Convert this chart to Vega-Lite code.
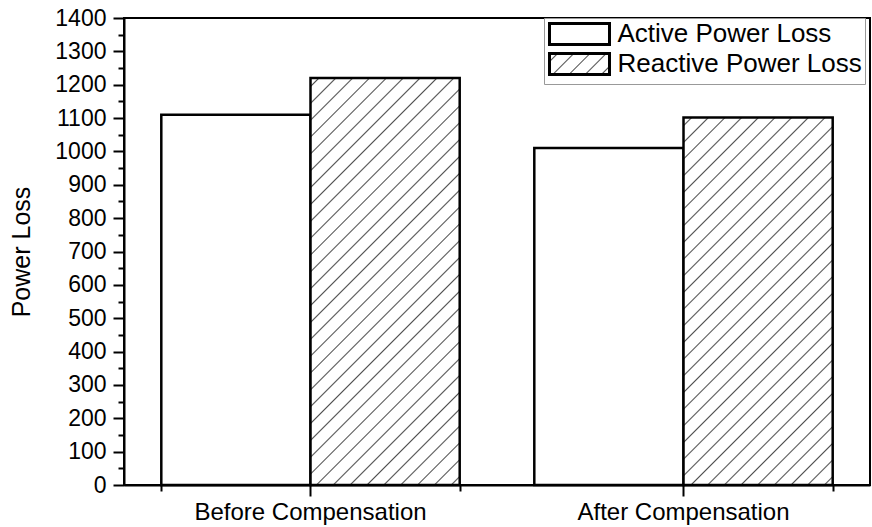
{
  "$schema": "https://vega.github.io/schema/vega-lite/v6.json",
  "width": 746,
  "height": 467,
  "autosize": "none",
  "padding": {"left": 124, "top": 18, "right": 2, "bottom": 42},
  "background": "white",
  "data": {
    "values": [
      {"stage": "Before Compensation", "series": "Active Power Loss", "loss": 1110},
      {"stage": "Before Compensation", "series": "Reactive Power Loss", "loss": 1220},
      {"stage": "After Compensation", "series": "Active Power Loss", "loss": 1010},
      {"stage": "After Compensation", "series": "Reactive Power Loss", "loss": 1102}
    ]
  },
  "layer": [
    {
      "transform": [{"filter": "datum.series === 'Active Power Loss'"}],
      "mark": {"type": "bar", "fill": "white", "strokeWidth": 2.5},
      "encoding": {
        "x": {
          "field": "stage", "type": "nominal",
          "sort": ["Before Compensation", "After Compensation"],
          "scale": {"paddingInner": 0.2, "paddingOuter": 0.1},
          "axis": {"title": null, "labelAngle": 0, "labelFontSize": 24, "labelPadding": 4, "labelLimit": 500, "tickSize": 11, "domain": true}
        },
        "xOffset": {
          "field": "series", "type": "nominal",
          "sort": ["Active Power Loss", "Reactive Power Loss"],
          "scale": {"paddingInner": 0, "paddingOuter": 0}
        },
        "y": {
          "field": "loss", "type": "quantitative",
          "scale": {"domain": [0, 1400], "nice": false},
          "axis": {
            "title": "Power Loss", "titleFontSize": 25, "titlePadding": 20,
            "values": [0, 100, 200, 300, 400, 500, 600, 700, 800, 900, 1000, 1100, 1200, 1300, 1400],
            "format": "d",
            "labelFontSize": 23, "labelPadding": 7, "tickSize": 11
          }
        },
        "stroke": {
          "field": "series", "type": "nominal",
          "scale": {"domain": ["Active Power Loss", "Reactive Power Loss"], "range": ["black", "black"]},
          "legend": {
            "orient": "none", "legendX": 420, "legendY": 0,
            "title": null,
            "strokeColor": "#999999", "fillColor": "white", "padding": 3,
            "symbolType": "M-2.857,-1H2.857V1H-2.857Z",
            "symbolSize": 441, "symbolOffset": 19.5, "labelOffset": 25,
            "symbolStrokeWidth": 3,
            "labelFont": "Liberation Sans", "labelFontSize": 26, "labelColor": "black", "labelLimit": 500,
            "rowPadding": -7,
            "encoding": {
              "symbols": {
                "strokeWidth": {"value": 3},
                "fill": {
                  "condition": {
                    "test": "datum.value === 'Reactive Power Loss'",
                    "value": {
                      "gradient": "linear", "x1": 0, "y1": 0, "x2": 1.2027, "y2": 0.4209,
                      "stops": [
                        {"offset": 0.082, "color": "#ffffff"}, {"offset": 0.1, "color": "#505050"}, {"offset": 0.118, "color": "#ffffff"},
                        {"offset": 0.282, "color": "#ffffff"}, {"offset": 0.3, "color": "#505050"}, {"offset": 0.318, "color": "#ffffff"},
                        {"offset": 0.482, "color": "#ffffff"}, {"offset": 0.5, "color": "#505050"}, {"offset": 0.518, "color": "#ffffff"},
                        {"offset": 0.682, "color": "#ffffff"}, {"offset": 0.7, "color": "#505050"}, {"offset": 0.718, "color": "#ffffff"},
                        {"offset": 0.882, "color": "#ffffff"}, {"offset": 0.9, "color": "#505050"}, {"offset": 0.918, "color": "#ffffff"}
                      ]
                    }
                  },
                  "value": "white"
                }
              }
            }
          }
        }
      }
    },
    {
      "transform": [{"filter": "datum.series === 'Reactive Power Loss'"}],
      "mark": {"type": "bar", "stroke": "black", "strokeWidth": 2.5},
      "encoding": {
        "x": {
          "field": "stage", "type": "nominal",
          "sort": ["Before Compensation", "After Compensation"],
          "axis": {"orient": "bottom", "title": null, "labels": false, "domain": false, "tickBand": "extent", "tickSize": 6}
        },
        "xOffset": {
          "field": "series", "type": "nominal",
          "sort": ["Active Power Loss", "Reactive Power Loss"]
        },
        "y": {
          "field": "loss", "type": "quantitative",
          "axis": {
            "orient": "left", "title": null, "labels": false, "domain": false, "tickSize": 6,
            "values": [50, 150, 250, 350, 450, 550, 650, 750, 850, 950, 1050, 1150, 1250, 1350]
          }
        },
        "fill": {
          "condition": {
            "test": "datum.stage === 'Before Compensation'",
            "value": {
              "gradient": "linear", "x1": 0, "y1": 0, "x2": 0.4416, "y2": 1.2047,
              "stops": [
                {"offset": 0.0125, "color": "#ffffff"}, {"offset": 0.0152, "color": "#505050"}, {"offset": 0.0179, "color": "#ffffff"},
                {"offset": 0.0428, "color": "#ffffff"}, {"offset": 0.0455, "color": "#505050"}, {"offset": 0.0482, "color": "#ffffff"},
                {"offset": 0.0731, "color": "#ffffff"}, {"offset": 0.0758, "color": "#505050"}, {"offset": 0.0785, "color": "#ffffff"},
                {"offset": 0.1034, "color": "#ffffff"}, {"offset": 0.1061, "color": "#505050"}, {"offset": 0.1088, "color": "#ffffff"},
                {"offset": 0.1337, "color": "#ffffff"}, {"offset": 0.1364, "color": "#505050"}, {"offset": 0.1391, "color": "#ffffff"},
                {"offset": 0.1640, "color": "#ffffff"}, {"offset": 0.1667, "color": "#505050"}, {"offset": 0.1694, "color": "#ffffff"},
                {"offset": 0.1943, "color": "#ffffff"}, {"offset": 0.1970, "color": "#505050"}, {"offset": 0.1997, "color": "#ffffff"},
                {"offset": 0.2246, "color": "#ffffff"}, {"offset": 0.2273, "color": "#505050"}, {"offset": 0.2300, "color": "#ffffff"},
                {"offset": 0.2549, "color": "#ffffff"}, {"offset": 0.2576, "color": "#505050"}, {"offset": 0.2603, "color": "#ffffff"},
                {"offset": 0.2852, "color": "#ffffff"}, {"offset": 0.2879, "color": "#505050"}, {"offset": 0.2906, "color": "#ffffff"},
                {"offset": 0.3155, "color": "#ffffff"}, {"offset": 0.3182, "color": "#505050"}, {"offset": 0.3209, "color": "#ffffff"},
                {"offset": 0.3458, "color": "#ffffff"}, {"offset": 0.3485, "color": "#505050"}, {"offset": 0.3512, "color": "#ffffff"},
                {"offset": 0.3761, "color": "#ffffff"}, {"offset": 0.3788, "color": "#505050"}, {"offset": 0.3815, "color": "#ffffff"},
                {"offset": 0.4064, "color": "#ffffff"}, {"offset": 0.4091, "color": "#505050"}, {"offset": 0.4118, "color": "#ffffff"},
                {"offset": 0.4367, "color": "#ffffff"}, {"offset": 0.4394, "color": "#505050"}, {"offset": 0.4421, "color": "#ffffff"},
                {"offset": 0.4670, "color": "#ffffff"}, {"offset": 0.4697, "color": "#505050"}, {"offset": 0.4724, "color": "#ffffff"},
                {"offset": 0.4973, "color": "#ffffff"}, {"offset": 0.5000, "color": "#505050"}, {"offset": 0.5027, "color": "#ffffff"},
                {"offset": 0.5276, "color": "#ffffff"}, {"offset": 0.5303, "color": "#505050"}, {"offset": 0.5330, "color": "#ffffff"},
                {"offset": 0.5579, "color": "#ffffff"}, {"offset": 0.5606, "color": "#505050"}, {"offset": 0.5633, "color": "#ffffff"},
                {"offset": 0.5882, "color": "#ffffff"}, {"offset": 0.5909, "color": "#505050"}, {"offset": 0.5936, "color": "#ffffff"},
                {"offset": 0.6185, "color": "#ffffff"}, {"offset": 0.6212, "color": "#505050"}, {"offset": 0.6239, "color": "#ffffff"},
                {"offset": 0.6488, "color": "#ffffff"}, {"offset": 0.6515, "color": "#505050"}, {"offset": 0.6542, "color": "#ffffff"},
                {"offset": 0.6791, "color": "#ffffff"}, {"offset": 0.6818, "color": "#505050"}, {"offset": 0.6845, "color": "#ffffff"},
                {"offset": 0.7094, "color": "#ffffff"}, {"offset": 0.7121, "color": "#505050"}, {"offset": 0.7148, "color": "#ffffff"},
                {"offset": 0.7397, "color": "#ffffff"}, {"offset": 0.7424, "color": "#505050"}, {"offset": 0.7451, "color": "#ffffff"},
                {"offset": 0.7700, "color": "#ffffff"}, {"offset": 0.7727, "color": "#505050"}, {"offset": 0.7754, "color": "#ffffff"},
                {"offset": 0.8003, "color": "#ffffff"}, {"offset": 0.8030, "color": "#505050"}, {"offset": 0.8057, "color": "#ffffff"},
                {"offset": 0.8306, "color": "#ffffff"}, {"offset": 0.8333, "color": "#505050"}, {"offset": 0.8360, "color": "#ffffff"},
                {"offset": 0.8609, "color": "#ffffff"}, {"offset": 0.8636, "color": "#505050"}, {"offset": 0.8663, "color": "#ffffff"},
                {"offset": 0.8912, "color": "#ffffff"}, {"offset": 0.8939, "color": "#505050"}, {"offset": 0.8966, "color": "#ffffff"},
                {"offset": 0.9215, "color": "#ffffff"}, {"offset": 0.9242, "color": "#505050"}, {"offset": 0.9269, "color": "#ffffff"},
                {"offset": 0.9518, "color": "#ffffff"}, {"offset": 0.9545, "color": "#505050"}, {"offset": 0.9572, "color": "#ffffff"},
                {"offset": 0.9821, "color": "#ffffff"}, {"offset": 0.9848, "color": "#505050"}, {"offset": 0.9875, "color": "#ffffff"}
              ]
            }
          },
          "value": {
            "gradient": "linear", "x1": 0, "y1": 0, "x2": 0.4899, "y2": 1.2070,
            "stops": [
              {"offset": 0.0132, "color": "#ffffff"}, {"offset": 0.0161, "color": "#505050"}, {"offset": 0.0190, "color": "#ffffff"},
              {"offset": 0.0455, "color": "#ffffff"}, {"offset": 0.0484, "color": "#505050"}, {"offset": 0.0513, "color": "#ffffff"},
              {"offset": 0.0777, "color": "#ffffff"}, {"offset": 0.0806, "color": "#505050"}, {"offset": 0.0835, "color": "#ffffff"},
              {"offset": 0.1100, "color": "#ffffff"}, {"offset": 0.1129, "color": "#505050"}, {"offset": 0.1158, "color": "#ffffff"},
              {"offset": 0.1423, "color": "#ffffff"}, {"offset": 0.1452, "color": "#505050"}, {"offset": 0.1481, "color": "#ffffff"},
              {"offset": 0.1745, "color": "#ffffff"}, {"offset": 0.1774, "color": "#505050"}, {"offset": 0.1803, "color": "#ffffff"},
              {"offset": 0.2068, "color": "#ffffff"}, {"offset": 0.2097, "color": "#505050"}, {"offset": 0.2126, "color": "#ffffff"},
              {"offset": 0.2390, "color": "#ffffff"}, {"offset": 0.2419, "color": "#505050"}, {"offset": 0.2448, "color": "#ffffff"},
              {"offset": 0.2713, "color": "#ffffff"}, {"offset": 0.2742, "color": "#505050"}, {"offset": 0.2771, "color": "#ffffff"},
              {"offset": 0.3036, "color": "#ffffff"}, {"offset": 0.3065, "color": "#505050"}, {"offset": 0.3094, "color": "#ffffff"},
              {"offset": 0.3358, "color": "#ffffff"}, {"offset": 0.3387, "color": "#505050"}, {"offset": 0.3416, "color": "#ffffff"},
              {"offset": 0.3681, "color": "#ffffff"}, {"offset": 0.3710, "color": "#505050"}, {"offset": 0.3739, "color": "#ffffff"},
              {"offset": 0.4003, "color": "#ffffff"}, {"offset": 0.4032, "color": "#505050"}, {"offset": 0.4061, "color": "#ffffff"},
              {"offset": 0.4326, "color": "#ffffff"}, {"offset": 0.4355, "color": "#505050"}, {"offset": 0.4384, "color": "#ffffff"},
              {"offset": 0.4648, "color": "#ffffff"}, {"offset": 0.4677, "color": "#505050"}, {"offset": 0.4706, "color": "#ffffff"},
              {"offset": 0.4971, "color": "#ffffff"}, {"offset": 0.5000, "color": "#505050"}, {"offset": 0.5029, "color": "#ffffff"},
              {"offset": 0.5294, "color": "#ffffff"}, {"offset": 0.5323, "color": "#505050"}, {"offset": 0.5352, "color": "#ffffff"},
              {"offset": 0.5616, "color": "#ffffff"}, {"offset": 0.5645, "color": "#505050"}, {"offset": 0.5674, "color": "#ffffff"},
              {"offset": 0.5939, "color": "#ffffff"}, {"offset": 0.5968, "color": "#505050"}, {"offset": 0.5997, "color": "#ffffff"},
              {"offset": 0.6261, "color": "#ffffff"}, {"offset": 0.6290, "color": "#505050"}, {"offset": 0.6319, "color": "#ffffff"},
              {"offset": 0.6584, "color": "#ffffff"}, {"offset": 0.6613, "color": "#505050"}, {"offset": 0.6642, "color": "#ffffff"},
              {"offset": 0.6906, "color": "#ffffff"}, {"offset": 0.6935, "color": "#505050"}, {"offset": 0.6964, "color": "#ffffff"},
              {"offset": 0.7229, "color": "#ffffff"}, {"offset": 0.7258, "color": "#505050"}, {"offset": 0.7287, "color": "#ffffff"},
              {"offset": 0.7552, "color": "#ffffff"}, {"offset": 0.7581, "color": "#505050"}, {"offset": 0.7610, "color": "#ffffff"},
              {"offset": 0.7874, "color": "#ffffff"}, {"offset": 0.7903, "color": "#505050"}, {"offset": 0.7932, "color": "#ffffff"},
              {"offset": 0.8197, "color": "#ffffff"}, {"offset": 0.8226, "color": "#505050"}, {"offset": 0.8255, "color": "#ffffff"},
              {"offset": 0.8519, "color": "#ffffff"}, {"offset": 0.8548, "color": "#505050"}, {"offset": 0.8577, "color": "#ffffff"},
              {"offset": 0.8842, "color": "#ffffff"}, {"offset": 0.8871, "color": "#505050"}, {"offset": 0.8900, "color": "#ffffff"},
              {"offset": 0.9165, "color": "#ffffff"}, {"offset": 0.9194, "color": "#505050"}, {"offset": 0.9223, "color": "#ffffff"},
              {"offset": 0.9487, "color": "#ffffff"}, {"offset": 0.9516, "color": "#505050"}, {"offset": 0.9545, "color": "#ffffff"},
              {"offset": 0.9810, "color": "#ffffff"}, {"offset": 0.9839, "color": "#505050"}, {"offset": 0.9868, "color": "#ffffff"}
            ]
          }
        }
      }
    }
  ],
  "resolve": {"axis": {"x": "independent", "y": "independent"}},
  "config": {
    "view": {"stroke": "black", "strokeWidth": 2},
    "axis": {
      "grid": false,
      "domainColor": "black", "domainWidth": 2,
      "tickColor": "black", "tickWidth": 2,
      "labelColor": "black", "titleColor": "black",
      "labelFont": "Liberation Sans", "titleFont": "Liberation Sans",
      "titleFontWeight": "normal"
    }
  }
}
